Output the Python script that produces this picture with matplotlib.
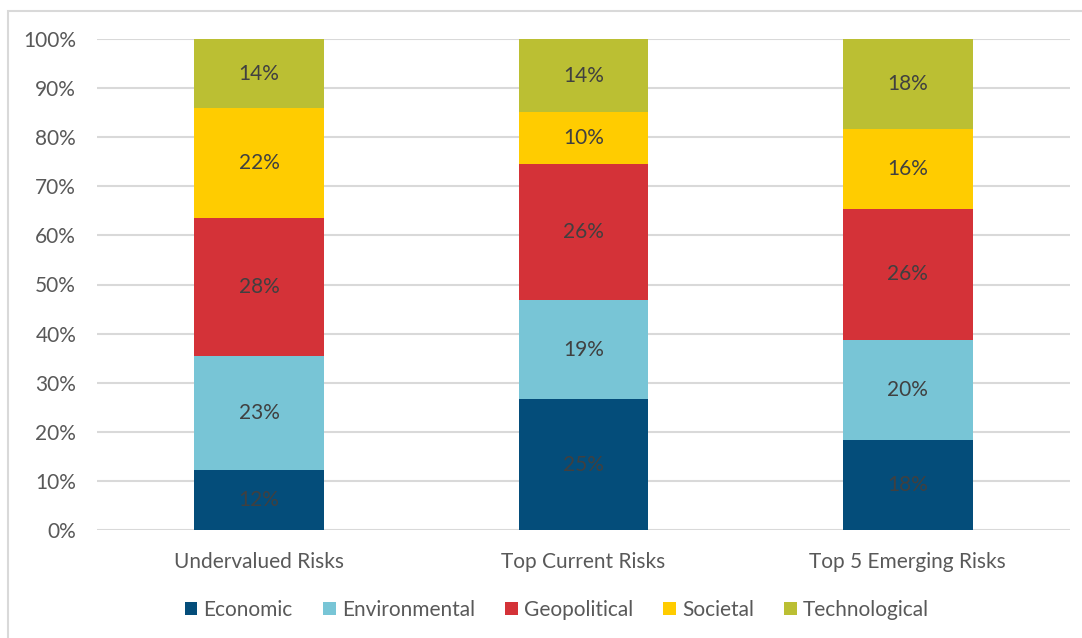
import matplotlib.pyplot as plt
import numpy as np
from matplotlib.patches import Rectangle

# data (raw counts shown as labels, bars normalised to 100%)
categories = ['Undervalued Risks', 'Top Current Risks', 'Top 5 Emerging Risks']
series = ['Economic', 'Environmental', 'Geopolitical', 'Societal', 'Technological']
economic = [12, 25, 18]
environmental = [23, 19, 20]
geopolitical = [28, 26, 26]
societal = [22, 10, 16]
technological = [14, 14, 18]
colors = ['#044D7A', '#78C5D6', '#D43238', '#FFCC00', '#BBBF33']

plt.rcParams['font.family'] = ['Lato', 'DejaVu Sans']

values = np.array([economic, environmental, geopolitical, societal, technological], float)
shares = values / values.sum(axis=0) * 100

fig = plt.figure(figsize=(10.82, 6.38), dpi=100)
# light frame round the chart area
fig.patches.append(Rectangle((8 / 1082, -0.05), 1.1, 1 - 11 / 638 + 0.05,
                             transform=fig.transFigure, fill=False,
                             edgecolor='#D9D9D9', lw=1.5))
ax = fig.add_axes([97 / 1082, 1 - 530 / 638, 973 / 1082, 491 / 638])

x = np.arange(len(categories))
bottom = np.zeros(len(categories))
for i, name in enumerate(series):
    bars = ax.bar(x, shares[i], 0.4, bottom=bottom, color=colors[i], label=name, zorder=3)
    for j, b in enumerate(bars):
        ax.text(b.get_x() + b.get_width() / 2, bottom[j] + shares[i][j] / 2,
                '%d%%' % values[i][j], ha='center', va='center',
                fontsize=15, color='#404040', zorder=4)
    bottom += shares[i]

ax.set_xlim(-0.5, 2.5)
ax.set_ylim(0, 100)
ax.set_yticks(np.arange(0, 101, 10))
ax.set_yticklabels(['%d%%' % v for v in range(0, 101, 10)])
ax.set_xticks(x)
ax.set_xticklabels(categories)
ax.tick_params(length=0, labelsize=15, colors='#595959')
ax.tick_params(axis='y', pad=15)
ax.tick_params(axis='x', pad=16)
ax.grid(axis='y', color='#D9D9D9', lw=1.5, zorder=0)
for s in ax.spines.values():
    s.set_visible(False)

leg = fig.legend(loc='center', bbox_to_anchor=(557 / 1082, 1 - 610 / 638), ncol=5,
                 frameon=False, fontsize=15, handlelength=0.6, handleheight=0.6,
                 handletextpad=0.3, columnspacing=1.45)
for t in leg.get_texts():
    t.set_color('#595959')

fig.savefig('out.png', dpi=100)
